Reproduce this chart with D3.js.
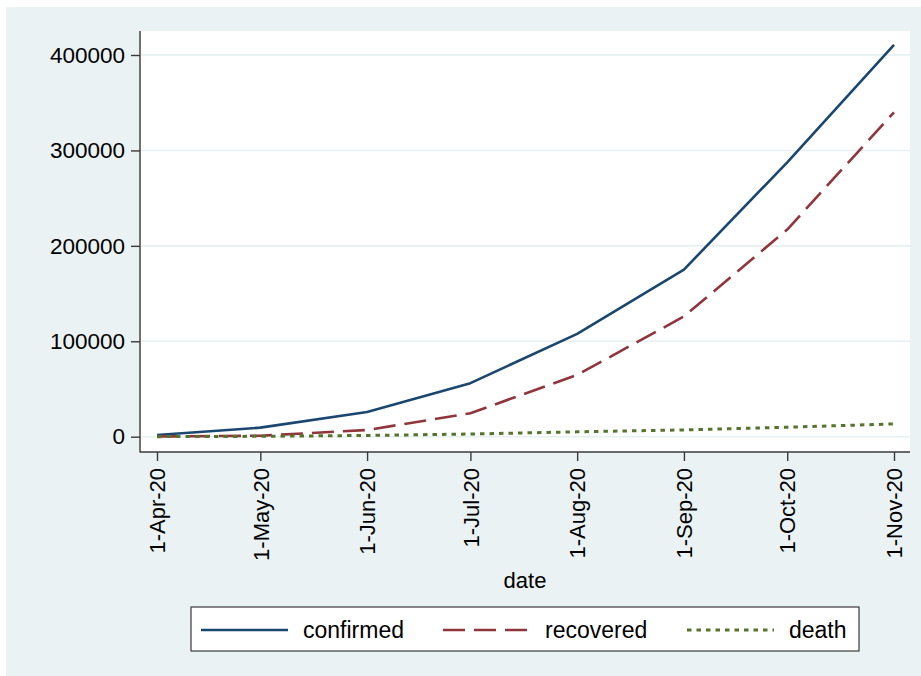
<!DOCTYPE html>
<html>
<head>
<meta charset="utf-8">
<script src="https://cdn.jsdelivr.net/npm/d3@7"></script>
<style>
  html, body { margin: 0; padding: 0; background: #ffffff; }
  svg { display: block; }
  text { font-family: "Liberation Sans", Arial, sans-serif; fill: #000; }
</style>
</head>
<body>
<svg id="chart" width="921" height="676"></svg>
<script>
// ---- data ----
const dates = ["2020-04-01","2020-05-01","2020-06-01","2020-07-01","2020-08-01","2020-09-01","2020-10-01","2020-11-01"];
const confirmed = [1800, 9500, 25800, 56100, 107800, 175100, 287500, 410700];
const recovered = [200, 1000, 7000, 24600, 64800, 126000, 217100, 340000];
const death = [50, 400, 1300, 2800, 5100, 7100, 9900, 13400];
const yTicks = [0, 100000, 200000, 300000, 400000];
const xTickDates = dates;
const seriesNames = ["confirmed", "recovered", "death"];

// ---- setup ----
const parse = d3.timeParse("%Y-%m-%d");
const svg = d3.select("#chart");
const W = 921, H = 676;

svg.append("rect").attr("x", 0).attr("y", 0).attr("width", W).attr("height", H).attr("fill", "#ffffff");
svg.append("rect").attr("x", 6).attr("y", 7).attr("width", W - 6).attr("height", H - 7).attr("fill", "#EAF2F3");

const plot = { left: 141, right: 910, top: 31, bottom: 452 };
svg.append("rect").attr("x", plot.left).attr("y", plot.top)
  .attr("width", plot.right - plot.left).attr("height", plot.bottom - plot.top)
  .attr("fill", "#ffffff");

const x = d3.scaleTime()
  .domain([parse(dates[0]), parse(dates[dates.length - 1])])
  .range([157, 894]);
const y = d3.scaleLinear().domain([0, 400000]).range([436.7, 55]);

// gridlines
svg.append("g").selectAll("line").data(yTicks).join("line")
  .attr("x1", plot.left).attr("x2", plot.right)
  .attr("y1", d => y(d)).attr("y2", d => y(d))
  .attr("stroke", "#E6EFF1").attr("stroke-width", 1.6);

// y axis
const yAxis = d3.axisLeft(y).tickValues(yTicks).tickFormat(d3.format("d")).tickSize(9).tickPadding(6);
const gy = svg.append("g").attr("transform", `translate(140,0)`).call(yAxis);
gy.select(".domain").remove();
gy.append("line").attr("x1", 0).attr("x2", 0).attr("y1", plot.top).attr("y2", plot.bottom + 0.5)
  .attr("stroke", "#3a3a3a").attr("stroke-width", 1.4);
gy.selectAll(".tick line").attr("stroke", "#3a3a3a").attr("stroke-width", 1.4);
gy.selectAll(".tick text").style("font-size", "22.5px").attr("fill", "#000").attr("font-family", "Liberation Sans, Arial, sans-serif");

// x axis
const xAxis = d3.axisBottom(x).tickValues(xTickDates.map(parse)).tickFormat(d3.timeFormat("%-d-%b-%y")).tickSize(9).tickPadding(6);
const gx = svg.append("g").attr("transform", `translate(0,452)`).call(xAxis);
gx.select(".domain").remove();
gx.append("line").attr("x1", 140).attr("x2", plot.right).attr("y1", 0).attr("y2", 0)
  .attr("stroke", "#3a3a3a").attr("stroke-width", 1.4);
gx.selectAll(".tick line").attr("stroke", "#3a3a3a").attr("stroke-width", 1.4);
gx.selectAll(".tick text")
  .style("font-size", "22px").attr("fill", "#000").attr("font-family", "Liberation Sans, Arial, sans-serif")
  .attr("transform", "rotate(-90)")
  .attr("text-anchor", "end")
  .attr("x", -16).attr("y", 0).attr("dy", "0.35em");

// axis title
svg.append("text").attr("x", 525).attr("y", 588).attr("text-anchor", "middle")
  .style("font-size", "22px").text("date");

// lines
const styles = {
  confirmed: { color: "#1a476f", dash: null, width: 2.6 },
  recovered: { color: "#90353b", dash: "22,9", width: 2.6 },
  death: { color: "#55752f", dash: "4.5,5", width: 3 }
};
const seriesData = { confirmed, recovered, death };
const line = d3.line().x(d => x(d.date)).y(d => y(d.v));
seriesNames.forEach(name => {
  const pts = dates.map((d, i) => ({ date: parse(d), v: seriesData[name][i] }));
  const s = styles[name];
  svg.append("path").datum(pts).attr("d", line)
    .attr("fill", "none").attr("stroke", s.color).attr("stroke-width", s.width)
    .attr("stroke-dasharray", s.dash).attr("stroke-linejoin", "round");
});

// legend
const lg = svg.append("g");
lg.append("rect").attr("x", 191).attr("y", 607).attr("width", 668).attr("height", 44)
  .attr("fill", "#ffffff").attr("stroke", "#3a3a3a").attr("stroke-width", 1.2);
const legendX = [201, 443, 687];
seriesNames.forEach((name, i) => {
  const s = styles[name];
  lg.append("line").attr("x1", legendX[i]).attr("x2", legendX[i] + 87)
    .attr("y1", 630).attr("y2", 630)
    .attr("stroke", s.color).attr("stroke-width", s.width).attr("stroke-dasharray", s.dash);
  lg.append("text").attr("x", legendX[i] + 102).attr("y", 630).attr("dy", "0.35em")
    .style("font-size", "23px").text(name);
});
</script>
</body>
</html>
